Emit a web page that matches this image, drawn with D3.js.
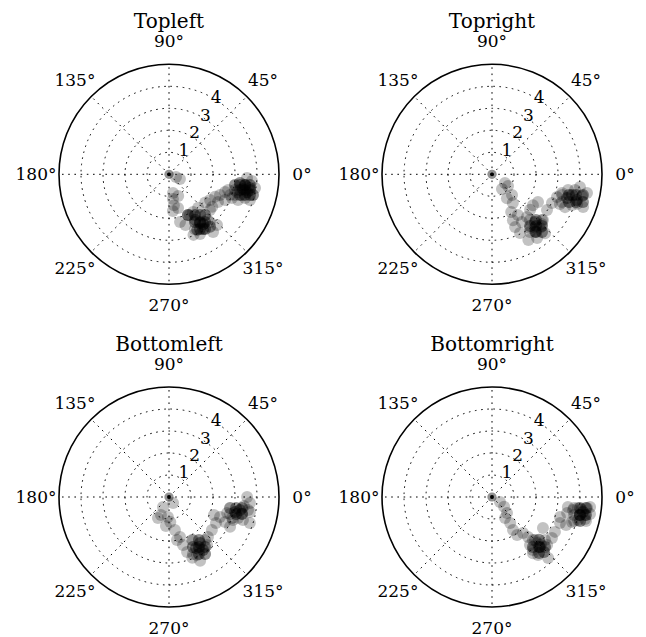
<!DOCTYPE html>
<html><head><meta charset="utf-8">
<script src="https://cdn.jsdelivr.net/npm/d3@7"></script>
<style>
body{margin:0;background:#fff}
text{font-family:"DejaVu Serif",serif;fill:#000}
</style>
</head><body>
<svg id="c" width="646" height="637"></svg>
<script>
// ---- data: [theta in degrees, r] ----
const titles = ["Topleft", "Topright", "Bottomleft", "Bottomright"];
const angleTicks = [0, 45, 90, 135, 180, 225, 270, 315];
const radialTicks = [1, 2, 3, 4];
const rMax = 5;

const topleftPoints = [
  [0,0],[0,0],[0,0],
  [-21,.34],[-23,.54],
  [-78,.87],[-81,1.14],[-81,1.42],[-84,1.68],[-67,1.07],[-75,1.59],
  [-65,2.04],[-57.5,2.03],[-60,2.39],[-57.5,2.62],[-48.5,2.47],[-50,2.7],[-52,3.03],[-58,2.93],[-63,2.83],
  [-68,2.97],[-62.5,3.06],[-77,2.23],[-72,2.42],[-52.6,3.3],[-46.5,3.17],[-41,2.47],[-49,2.02],[-55.5,2.74],
  [-57.5,2.62],[-58,2.93],[-55.5,2.74],[-60,2.39],[-63,2.83],[-52,3.03],[-65,2.04],[-65,2.04],
  [-57.5,2.2],[-52.7,2.33],[-48.5,2.47],[-61.5,2.47],[-57,2.59],[-53,2.72],[-49.4,2.86],[-64.6,2.76],[-60.5,2.86],[-56.6,2.98],[-62.8,2.08],
  [-57.5,2.2],[-52.7,2.33],[-61.5,2.47],[-57,2.59],[-53,2.72],[-60.5,2.86],[-56.6,2.98],
  [-38,2.09],[-32,2.2],[-26,2.33],[-22,2.5],[-29.5,2.56],[-17.5,2.67],[-24.6,2.8],[-18.7,2.93],[-37,2.46],
  [-9.3,3.04],[-7,3.25],[-8,3.49],[-9.6,3.73],[-12.9,3.64],[-15.8,3.45],[-14.7,3.2],[-20.7,3.06],[-20.4,3.35],
  [-17.4,3.62],[-13.8,3.93],[-9,3.96],[-2.7,3.55],[-4.6,3.78],[-14.9,2.78],[-11.3,3.43],[-17.6,3.86],
  [-8,3.49],[-9.6,3.73],[-12.9,3.64],[-11.3,3.43],[-7,3.25],[-13.8,3.93],
  [-9.2,3.04],[-8.6,3.27],[-8.1,3.49],[-7.6,3.71],[-13.4,3.08],[-12.5,3.3],[-11.7,3.53],[-10.9,3.75],
  [-17.5,3.14],[-16.3,3.36],[-15.3,3.58],[-14.4,3.8],
  [-8.6,3.27],[-8.1,3.49],[-7.6,3.71],[-12.5,3.3],[-11.7,3.53],[-10.9,3.75],[-16.3,3.36],[-15.3,3.58],[-14.4,3.8]
];
const toprightPoints = [
  [0,0],[0,0],[0,0],
  [-34,.71],[-36,.9],[-56,.81],[-58,1.28],[-46,1.31],[-54,1.61],[-63,1.92],[-65.5,2.29],[-57.5,2.19],[-58,2.56],
  [-50.7,2.51],[-37,2.33],[-31,2.44],[-43,2.37],[-48,2.92],[-48,3.27],[-53,3.27],[-54.7,2.99],[-41.9,3.11],
  [-48,3.6],[-61,3.41],[-64.5,2.96],[-66.4,2.62],[-54.7,3.55],
  [-48,2.92],[-53,3.27],[-51,3.1],[-45,3.2],
  [-50.3,2.7],[-46.1,2.88],[-42.5,3.08],[-53.6,2.92],[-49.6,3.09],[-46,3.27],[-56.6,3.14],[-52.6,3.3],[-49.1,3.47],
  [-46.1,2.88],[-53.6,2.92],[-49.6,3.09],[-46,3.27],[-52.6,3.3],[-49.1,3.47],
  [-33,2.98],[-25.5,3.02],[-19.3,3.13],[-15,3.29],[-17.6,3.58],[-14.5,3.76],[-16.8,4.03],[-13.6,4.21],[-11.1,4.4],
  [-8.2,4.04],[-21,3.9],[-24.2,3.64],[-23.6,3.37],[-19.8,4.4],[-10.7,3.84],[-11.6,3.53],
  [-17.6,3.58],[-14.5,3.76],[-16.8,4.03],[-19,4.1],
  [-16.5,3.32],[-15,3.62],[-13.8,3.93],[-12.8,4.24],[-21.6,3.42],[-19.8,3.72],[-18.3,4.02],[-16.9,4.32],
  [-15,3.62],[-13.8,3.93],[-12.8,4.24],[-19.8,3.72],[-18.3,4.02],[-16.9,4.32]
];
const bottomleftPoints = [
  [0,0],[0,0],[0,0],
  [-56,.33],[-121,.53],[-114,.9],[-117.8,1.08],[-93,.91],[-87,1.14],[-96,1.33],[-79.8,1.52],[-74.6,1.89],
  [-79.5,1.99],[-73.7,2.27],[-71.8,2.63],[-61.8,2.22],[-62,2.62],[-56,2.52],[-57.3,2.86],[-64.3,2.93],[-69,2.96],
  [-64,3.23],[-51.6,2.78],[-45.8,2.54],[-37.6,2.46],[-28.9,2.44],[-21.4,2.49],[-21.8,2.2],[-24,2.79],[-15.4,2.74],
  [-18.4,3.02],[-12.8,3.08],[-10.4,3.28],[-6.9,3.43],[0,3.55],[-4.2,3.69],[-10.5,3.74],[-16.9,3.28],[-17.8,3.86],
  [-17.3,3.52],[-26,3.09],
  [-56,2.52],[-62,2.62],[-57.3,2.86],[-60,2.75],
  [-60.8,2.24],[-55.1,2.38],[-50,2.55],[-64.4,2.52],[-59.1,2.65],[-54.2,2.8],[-67.2,2.81],[-62.3,2.93],[-57.7,3.07],
  [-55.1,2.38],[-64.4,2.52],[-59.1,2.65],[-54.2,2.8],[-62.3,2.93],[-57.7,3.07],
  [-12.8,3.08],[-10.4,3.28],[-13,3.4],
  [-10.2,2.82],[-9.3,3.09],[-8.6,3.36],[-15.5,2.88],[-14.2,3.15],[-13.1,3.41],[-9.3,3.64],[-19.8,3.09],
  [-9.3,3.09],[-8.6,3.36],[-14.2,3.15],[-13.1,3.41],[-10.2,2.82]
];
const bottomrightPoints = [
  [0,0],[0,0],[0,0],
  [-32,.43],[-39,.71],[-47,1.0],[-58,1.12],[-55,1.44],[-57.6,1.78],[-56.6,2.07],[-49.3,2.16],[-48,2.45],
  [-51.6,2.78],[-52.3,3.04],[-45.6,2.93],[-46.2,3.15],[-46.6,3.44],[-41,3.32],[-31.3,2.71],[-47.4,3.77],
  [-51.6,3.37],[-45,2.76],[-34.3,3.3],[-29,3.27],[-20.9,3.31],[-16.4,3.22],[-12,3.49],[-7.5,3.48],[-9.1,3.73],
  [-7.3,3.94],[-9.3,4.19],[-6.6,4.35],[-9.8,4.52],[-13.3,4.35],[-15,4.05],[-17.4,3.81],[-20.7,3.6],[-5.8,4.48],[-11.6,4.08],
  [-46.2,3.15],[-46.6,3.44],[-44,3.1],
  [-46.4,2.7],[-42.3,2.89],[-39,3.1],[-50.7,2.94],[-46.7,3.12],[-43.3,3.31],[-53.9,3.16],[-50,3.33],
  [-42.3,2.89],[-50.7,2.94],[-46.7,3.12],[-43.3,3.31],[-50,3.33],
  [-9.3,4.19],[-11.6,4.08],[-11,4.3],[-8,4.1],
  [-7.6,3.76],[-7.1,4.03],[-6.7,4.3],[-12.4,3.82],[-11.6,4.08],[-10.9,4.35],[-16.3,3.89],[-15.2,4.15],[-14.3,4.41],
  [-7.1,4.03],[-6.7,4.3],[-11.6,4.08],[-10.9,4.35],[-15.2,4.15]
];
const panelPoints = [topleftPoints, toprightPoints, bottomleftPoints, bottomrightPoints];

// ---- layout ----
const R = 110;
const colX = [169, 492], rowY = [174.3, 497];
const svg = d3.select("#c");
const rScale = d3.scaleLinear().domain([0, rMax]).range([0, R]);
const rad = d => d * Math.PI / 180;

panelPoints.forEach((pts, i) => {
  const cx = colX[i % 2], cy = rowY[Math.floor(i / 2)];
  const g = svg.append("g").attr("transform", `translate(${cx},${cy})`);
  const px = (t, r) => rScale(r) * Math.cos(rad(t));
  const py = (t, r) => -rScale(r) * Math.sin(rad(t));

  // points
  g.append("g").selectAll("circle").data(pts.filter(d => d[1] > 0)).join("circle")
    .attr("cx", d => px(d[0], d[1])).attr("cy", d => py(d[0], d[1]))
    .attr("r", 6).attr("fill", "#000").attr("fill-opacity", 0.24);
  const origin = pts.filter(d => d[1] === 0);
  g.append("g").selectAll("circle").data(origin).join("circle")
    .attr("cx", d => px(d[0], d[1])).attr("cy", d => py(d[0], d[1]))
    .attr("r", 4.6).attr("fill", "#000").attr("fill-opacity", 0.17);
  g.append("g").selectAll("circle").data(origin.slice(0, 1)).join("circle")
    .attr("cx", d => px(d[0], d[1])).attr("cy", d => py(d[0], d[1]))
    .attr("r", 1.9).attr("fill", "#000");

  // grid
  const grid = g.append("g").attr("fill", "none").attr("stroke", "#000")
    .attr("stroke-width", 1).attr("stroke-dasharray", "1.6,4.6");
  grid.selectAll("circle").data(radialTicks).join("circle").attr("r", d => rScale(d));
  grid.selectAll("line").data(angleTicks).join("line")
    .attr("x1", 0).attr("y1", 0)
    .attr("x2", d => px(d, rMax)).attr("y2", d => py(d, rMax));

  // outer circle
  g.append("circle").attr("r", rScale(rMax)).attr("fill", "none")
    .attr("stroke", "#000").attr("stroke-width", 1.6);

  // angle labels
  g.append("g").selectAll("text").data(angleTicks).join("text")
    .attr("x", d => (R + 23) * Math.cos(rad(d)))
    .attr("y", d => -(R + 23) * Math.sin(rad(d)) - (d === 270 ? 2.5 : 0))
    .attr("text-anchor", "middle").attr("dominant-baseline", "central")
    .attr("font-size", 17).text(d => d + "°");

  // radial labels
  g.append("g").selectAll("text").data(radialTicks).join("text")
    .attr("x", d => (rScale(d) * 0.93 + 8.3) * Math.cos(rad(58.5)))
    .attr("y", d => -(rScale(d) * 0.93 + 8.3) * Math.sin(rad(58.5)))
    .attr("text-anchor", "middle").attr("dominant-baseline", "central")
    .attr("font-size", 17).text(d => d);

  // title
  g.append("text").attr("x", 0).attr("y", -146.3)
    .attr("text-anchor", "middle").attr("font-size", 20).text(titles[i]);
});
</script>
</body></html>
